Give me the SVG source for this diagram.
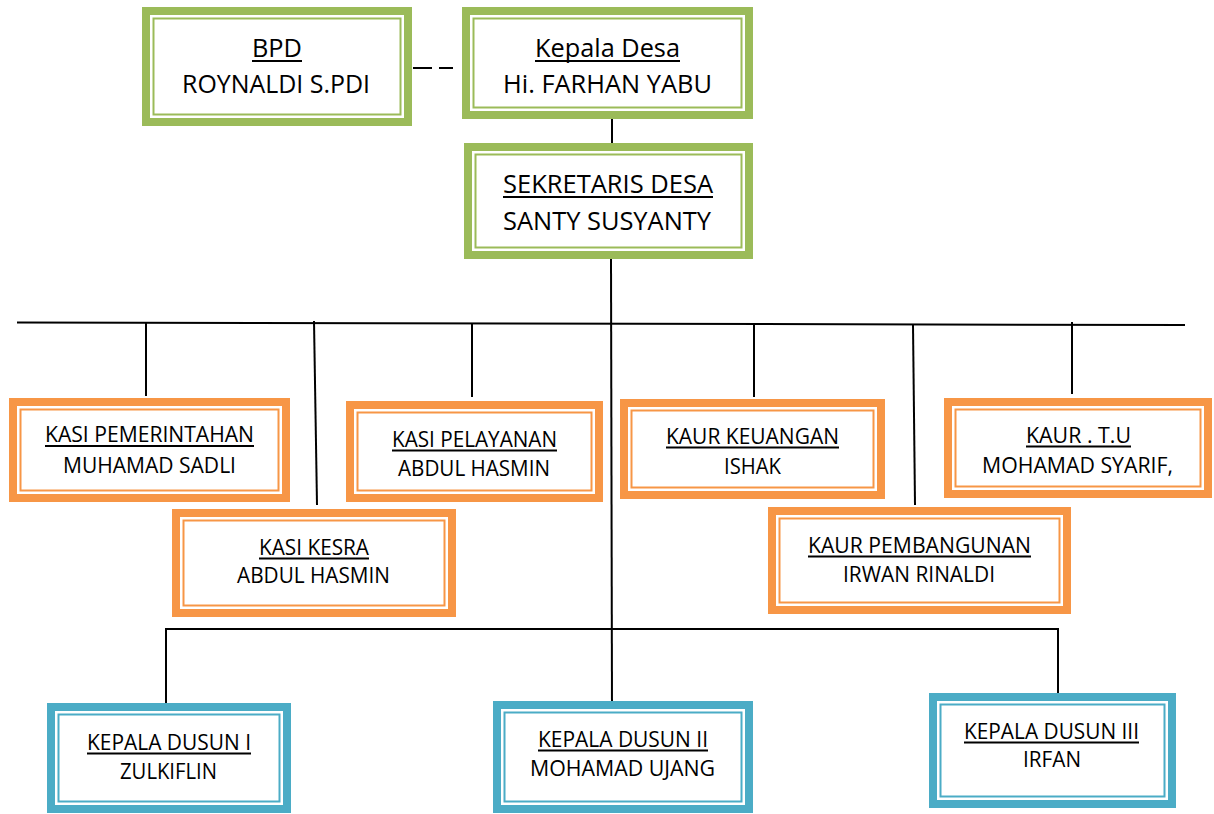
<svg xmlns="http://www.w3.org/2000/svg" width="1214" height="814" viewBox="0 0 1214 814">
<style>
.outer{fill:#fff;stroke-width:8}
.inner{fill:none;stroke-width:2}
.g .outer,.g .inner{stroke:#9BBB59}
.o .outer,.o .inner{stroke:#F79646}
.b .outer,.b .inner{stroke:#4BACC6}
text{font-family:"Open Sans","Liberation Sans",sans-serif;fill:#000;text-anchor:start}
.t1{font-size:25.5px}
.t2{font-size:21.5px}
.ul{stroke:#000;stroke-width:1.8}
.c{stroke:#000;stroke-width:2;fill:none}
</style>
<rect width="1214" height="814" fill="#fff"/>
<g id="connectors">
<line class="c" x1="413" y1="68" x2="453" y2="68" stroke-width="3.2" stroke-dasharray="19 7"/>
<rect x="528" y="67" width="2.5" height="2.5" fill="#000"/>
<line class="c" x1="612" y1="119" x2="612" y2="143" stroke-width="3"/>
<line class="c" x1="611" y1="259" x2="612" y2="713"/>
<line class="c" x1="17" y1="322.5" x2="1185" y2="325"/>
<line class="c" x1="146" y1="323" x2="146" y2="396"/>
<line class="c" x1="472" y1="324" x2="472" y2="397"/>
<line class="c" x1="754" y1="325" x2="754" y2="397"/>
<line class="c" x1="1072" y1="322" x2="1072" y2="394"/>
<line class="c" x1="314" y1="321" x2="317" y2="505"/>
<line class="c" x1="913" y1="325" x2="915" y2="505"/>
<polyline class="c" points="166,703 166,629 1058,629 1058,693"/>
</g>
<g id="bpd" class="g">
<rect class="outer" x="146" y="11" width="262" height="111"/>
<rect class="inner" x="153.5" y="18.5" width="247" height="96"/>
<text class="t1" x="252" y="57" textLength="50" lengthAdjust="spacingAndGlyphs">BPD</text>
<line class="ul" x1="252" y1="61" x2="302" y2="61"/>
<text class="t1" x="182" y="93" textLength="188" lengthAdjust="spacingAndGlyphs">ROYNALDI S.PDI</text>
</g>
<g id="kepala-desa" class="g">
<rect class="outer" x="466" y="11" width="283" height="104"/>
<rect class="inner" x="473.5" y="18.5" width="268" height="89"/>
<text class="t1" x="535" y="57" font-size="23.5" textLength="145" lengthAdjust="spacingAndGlyphs">Kepala Desa</text>
<line class="ul" x1="535" y1="61" x2="680" y2="61"/>
<text class="t1" x="503" y="93" textLength="209" lengthAdjust="spacingAndGlyphs">Hi. FARHAN YABU</text>
</g>
<g id="sekretaris-desa" class="g">
<rect class="outer" x="468" y="147" width="281" height="108"/>
<rect class="inner" x="475.5" y="154.5" width="266" height="93"/>
<text class="t1" x="503" y="192.5" textLength="210" lengthAdjust="spacingAndGlyphs">SEKRETARIS DESA</text>
<line class="ul" x1="503" y1="197" x2="713" y2="197"/>
<text class="t1" x="503" y="229.5" textLength="208" lengthAdjust="spacingAndGlyphs">SANTY SUSYANTY</text>
</g>
<g id="kasi-pemerintahan" class="o">
<rect class="outer" x="13" y="402" width="273" height="96"/>
<rect class="inner" x="20.5" y="409.5" width="258" height="81"/>
<text class="t2" x="45" y="442" textLength="209" lengthAdjust="spacingAndGlyphs">KASI PEMERINTAHAN</text>
<line class="ul" x1="45" y1="446" x2="254" y2="446"/>
<text class="t2" x="63" y="473" textLength="173" lengthAdjust="spacingAndGlyphs">MUHAMAD SADLI</text>
</g>
<g id="kasi-pelayanan" class="o">
<rect class="outer" x="350" y="405" width="249" height="93"/>
<rect class="inner" x="357.5" y="412.5" width="234" height="78"/>
<text class="t2" x="392" y="447" textLength="165" lengthAdjust="spacingAndGlyphs">KASI PELAYANAN</text>
<line class="ul" x1="392" y1="450.5" x2="557" y2="450.5"/>
<text class="t2" x="398" y="476" textLength="152" lengthAdjust="spacingAndGlyphs">ABDUL HASMIN</text>
</g>
<g id="kaur-keuangan" class="o">
<rect class="outer" x="624" y="403" width="257" height="92"/>
<rect class="inner" x="631.5" y="410.5" width="242" height="77"/>
<text class="t2" x="666" y="444" textLength="173" lengthAdjust="spacingAndGlyphs">KAUR KEUANGAN</text>
<line class="ul" x1="666" y1="447.5" x2="839" y2="447.5"/>
<text class="t2" x="724" y="474" textLength="57" lengthAdjust="spacingAndGlyphs">ISHAK</text>
</g>
<g id="kaur-tu" class="o">
<rect class="outer" x="948" y="402" width="260" height="92"/>
<rect class="inner" x="955.5" y="409.5" width="245" height="77"/>
<text class="t2" x="1026" y="443" textLength="105" lengthAdjust="spacingAndGlyphs">KAUR . T.U</text>
<line class="ul" x1="1026" y1="446.5" x2="1131" y2="446.5"/>
<text class="t2" x="982" y="473" textLength="191" lengthAdjust="spacingAndGlyphs">MOHAMAD SYARIF,</text>
</g>
<g id="kasi-kesra" class="o">
<rect class="outer" x="176" y="513" width="276" height="100"/>
<rect class="inner" x="183.5" y="520.5" width="261" height="85"/>
<text class="t2" x="259" y="555" textLength="110" lengthAdjust="spacingAndGlyphs">KASI KESRA</text>
<line class="ul" x1="259" y1="558.5" x2="369" y2="558.5"/>
<text class="t2" x="237" y="583" textLength="153" lengthAdjust="spacingAndGlyphs">ABDUL HASMIN</text>
</g>
<g id="kaur-pembangunan" class="o">
<rect class="outer" x="772" y="511" width="295" height="99"/>
<rect class="inner" x="779.5" y="518.5" width="280" height="84"/>
<text class="t2" x="808" y="553" textLength="223" lengthAdjust="spacingAndGlyphs">KAUR PEMBANGUNAN</text>
<line class="ul" x1="808" y1="556.5" x2="1031" y2="556.5"/>
<text class="t2" x="843" y="582" textLength="152" lengthAdjust="spacingAndGlyphs">IRWAN RINALDI</text>
</g>
<g id="kepala-dusun-1" class="b">
<rect class="outer" x="51" y="707" width="236" height="102"/>
<rect class="inner" x="58.5" y="714.5" width="221" height="87"/>
<text class="t2" x="87" y="750" textLength="164" lengthAdjust="spacingAndGlyphs">KEPALA DUSUN I</text>
<line class="ul" x1="87" y1="753.5" x2="251" y2="753.5"/>
<text class="t2" x="120" y="779" textLength="97" lengthAdjust="spacingAndGlyphs">ZULKIFLIN</text>
</g>
<g id="kepala-dusun-2" class="b">
<rect class="outer" x="497" y="705" width="252" height="104"/>
<rect class="inner" x="504.5" y="712.5" width="237" height="89"/>
<text class="t2" x="538" y="747" textLength="170" lengthAdjust="spacingAndGlyphs">KEPALA DUSUN II</text>
<line class="ul" x1="538" y1="750.5" x2="708" y2="750.5"/>
<text class="t2" x="530" y="776" textLength="185" lengthAdjust="spacingAndGlyphs">MOHAMAD UJANG</text>
</g>
<g id="kepala-dusun-3" class="b">
<rect class="outer" x="933" y="697" width="239" height="107"/>
<rect class="inner" x="940.5" y="704.5" width="224" height="92"/>
<text class="t2" x="964" y="739" textLength="175" lengthAdjust="spacingAndGlyphs">KEPALA DUSUN III</text>
<line class="ul" x1="964" y1="742.5" x2="1139" y2="742.5"/>
<text class="t2" x="1023" y="767" textLength="58" lengthAdjust="spacingAndGlyphs">IRFAN</text>
</g>
</svg>
